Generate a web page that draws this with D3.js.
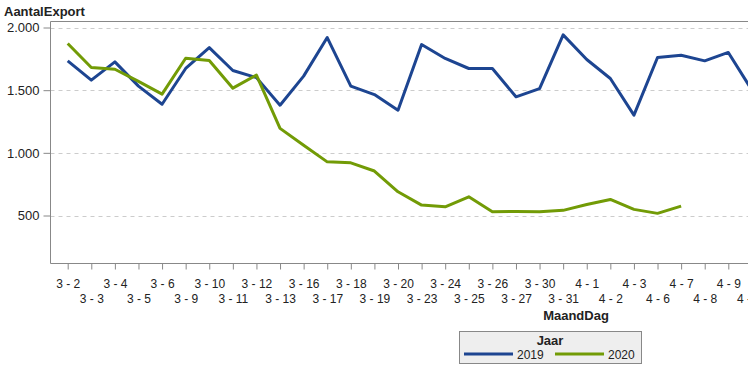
<!DOCTYPE html>
<html>
<head>
<meta charset="utf-8">
<script src="https://cdn.jsdelivr.net/npm/d3@7"></script>
<style>
  body { margin: 0; background: #fff; }
  svg { display: block; font-family: "Liberation Sans", Arial, sans-serif; }
</style>
</head>
<body>
<svg width="748" height="369"></svg>
<script>
// Categories (MaandDag) and series per year
var categories = ["3 - 2", "3 - 3", "3 - 4", "3 - 5", "3 - 6", "3 - 9", "3 - 10", "3 - 11", "3 - 12", "3 - 13",
  "3 - 16", "3 - 17", "3 - 18", "3 - 19", "3 - 20", "3 - 23", "3 - 24", "3 - 25", "3 - 26", "3 - 27",
  "3 - 30", "3 - 31", "4 - 1", "4 - 2", "4 - 3", "4 - 6", "4 - 7", "4 - 8", "4 - 9", "4 - 10"];

var values2019 = [1734, 1580, 1726, 1532, 1388, 1673, 1840, 1657, 1600, 1380,
  1612, 1920, 1532, 1465, 1340, 1864, 1753, 1673, 1673, 1447,
  1513, 1941, 1745, 1593, 1301, 1761, 1779, 1734, 1801, 1500];

var values2020 = [1872, 1681, 1667, 1570, 1468, 1755, 1737, 1516, 1620, 1195,
  1060, 928, 920, 855, 689, 583, 569, 649, 530, 532,
  530, 541, 588, 628, 549, 517, 575, null, null, null];

var yTicks = [500, 1000, 1500, 2000];

var series = [
  { name: "2019", values: values2019, color: "#1d4591" },
  { name: "2020", values: values2020, color: "#729b06" }
];

var svg = d3.select("svg");

// plot area
var plotLeft = 50.5, plotTop = 21.5, plotBottom = 263.5, plotRight = 748;

var x = d3.scalePoint()
  .domain(categories)
  .range([67.7, 751.9]);

var y = d3.scaleLinear()
  .domain([117, 2048])
  .range([plotBottom, plotTop]);

var nl = d3.formatLocale({ decimal: ",", thousands: ".", grouping: [3], currency: ["", ""] });
var fmt = nl.format(",");

// dashed gridlines
svg.append("g")
  .selectAll("line")
  .data(yTicks)
  .enter()
  .append("line")
  .attr("x1", plotLeft)
  .attr("x2", plotRight)
  .attr("y1", function(d) { return Math.round(y(d)) + 0.5; })
  .attr("y2", function(d) { return Math.round(y(d)) + 0.5; })
  .attr("stroke", "#cccccc")
  .attr("stroke-dasharray", "4,4");

// top border
svg.append("line")
  .attr("x1", plotLeft).attr("x2", plotRight)
  .attr("y1", plotTop).attr("y2", plotTop)
  .attr("stroke", "#888");

// y axis
var yAxis = svg.append("g")
  .attr("transform", "translate(" + plotLeft + ",0)")
  .call(d3.axisLeft(y).tickValues(yTicks).tickSize(7).tickPadding(4).tickFormat(fmt));

yAxis.select(".domain").attr("d", "M0," + plotTop + "V" + plotBottom);

// x axis
var xAxis = svg.append("g")
  .attr("transform", "translate(0," + plotBottom + ")")
  .call(d3.axisBottom(x).tickSize(6).tickPadding(10));

xAxis.select(".domain").attr("d", "M" + plotLeft + ",0H" + plotRight);

xAxis.selectAll(".tick text")
  .attr("dy", function(d, i) { return i % 2 === 0 ? "0.71em" : "1.96em"; });

svg.selectAll(".domain, .tick line").attr("stroke", "#888");
svg.selectAll(".tick text").attr("fill", "#222");
yAxis.selectAll(".tick text").attr("font-size", 13).attr("font-family", "Liberation Sans, Arial, sans-serif");
xAxis.selectAll(".tick text").attr("font-size", 12).attr("font-family", "Liberation Sans, Arial, sans-serif");

// lines
var line = d3.line()
  .defined(function(d) { return d.v != null; })
  .x(function(d) { return x(d.c); })
  .y(function(d) { return y(d.v); });

svg.append("g")
  .selectAll("path")
  .data(series)
  .enter()
  .append("path")
  .attr("d", function(s) {
    return line(s.values.map(function(v, i) { return { c: categories[i], v: v }; }));
  })
  .attr("fill", "none")
  .attr("stroke", function(s) { return s.color; })
  .attr("stroke-width", 3)
  .attr("stroke-linejoin", "round");

// axis titles
svg.append("text")
  .attr("x", 4)
  .attr("y", 16)
  .attr("font-size", 13)
  .attr("font-weight", "bold")
  .attr("fill", "#222")
  .text("AantalExport");

svg.append("text")
  .attr("x", 576)
  .attr("y", 320)
  .attr("text-anchor", "middle")
  .attr("font-size", 13)
  .attr("font-weight", "bold")
  .attr("fill", "#222")
  .text("MaandDag");

// legend
var legend = svg.append("g");
legend.append("rect")
  .attr("x", 459.5).attr("y", 331.5)
  .attr("width", 182).attr("height", 32)
  .attr("fill", "#eeeeee")
  .attr("stroke", "#888");

legend.append("text")
  .attr("x", 550)
  .attr("y", 345)
  .attr("text-anchor", "middle")
  .attr("font-size", 13)
  .attr("font-weight", "bold")
  .attr("fill", "#222")
  .text("Jaar");

var legendX = [464, 555];
var items = legend.selectAll(".item")
  .data(series)
  .enter()
  .append("g")
  .attr("class", "item")
  .attr("transform", function(d, i) { return "translate(" + legendX[i] + ",354)"; });

items.append("line")
  .attr("x1", 0).attr("x2", 49)
  .attr("stroke", function(d) { return d.color; })
  .attr("stroke-width", 3);

items.append("text")
  .attr("x", 53)
  .attr("y", 4.5)
  .attr("font-size", 12)
  .attr("fill", "#222")
  .text(function(d) { return d.name; });
</script>
</body>
</html>
